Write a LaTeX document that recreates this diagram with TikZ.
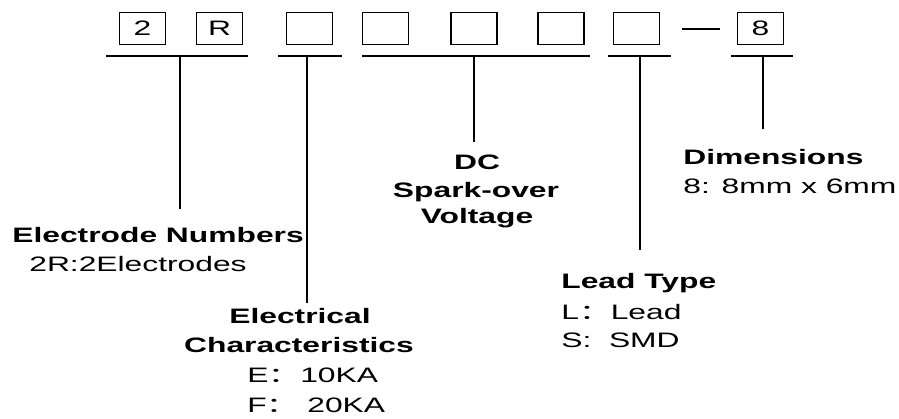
\documentclass[tikz,border=0pt]{standalone}
\usepackage{fontspec}
\setmainfont{Liberation Sans}[FakeStretch=1.52]
\newfontfamily\cjk{Noto Sans CJK SC}[FakeStretch=1.52]
\newcommand{\lblsize}{\fontsize{11.9}{15}\selectfont}
\newcommand{\fcolon}{{\cjk ：}}
\tikzstyle{digit} = [draw, line width=1.1pt, minimum width=0.92cm, minimum height=0.64cm, inner sep=0pt, font=\lblsize]
\tikzstyle{line} = [draw, line width=1.1pt]
\tikzstyle{head} = [inner sep=0pt, font=\lblsize\bfseries]
\tikzstyle{item} = [inner sep=0pt, font=\lblsize]

\begin{document}
\begin{tikzpicture}[x=0.02cm, y=-0.02cm]
\useasboundingbox (0,0) rectangle (899,419);
% code boxes
\node (b1) at (142.5,28.5) [digit] {2};
\node (b2) at (219.5,28.5) [digit] {R};
\node (b3) at (309.5,28.5) [digit] {};
\node (b4) at (385.5,28.5) [digit] {};
\node (b5) at (474,28.5) [digit] {};
\node (b6) at (561,28.5) [digit] {};
\node (b7) at (636.5,28.5) [digit] {};
\node (b8) at (760.5,28.5) [digit] {8};
\coordinate (dash1) at (682,29);
\coordinate (dash2) at (720,29);
\path [line] (dash1) -- (dash2);
% underlines
\coordinate (u1a) at (106,56);
\coordinate (u1b) at (248,56);
\coordinate (u2a) at (278,56);
\coordinate (u2b) at (342,56);
\coordinate (u3a) at (362,56);
\coordinate (u3b) at (590,56);
\coordinate (u4a) at (608,56);
\coordinate (u4b) at (671,56);
\coordinate (u5a) at (731,56);
\coordinate (u5b) at (793,56);
\path [line] (u1a) -- (u1b);
\path [line] (u2a) -- (u2b);
\path [line] (u3a) -- (u3b);
\path [line] (u4a) -- (u4b);
\path [line] (u5a) -- (u5b);
% labels
\node (elec) at (12,242) [head, anchor=base west] {Electrode Numbers};
\node (elecv) at (29,271) [item, anchor=base west] {2R:2Electrodes};
\node (char1) at (300,323) [head, anchor=base] {Electrical};
\node (char2) at (299,352) [head, anchor=base] {Characteristics};
\node (chare) at (247,382) [item, anchor=base west] {E\fcolon10KA};
\node (charf) at (247,412) [item, anchor=base west] {F\fcolon\ 20KA};
\node (dc1) at (477,169) [head, anchor=base] {DC};
\node (dc2) at (476,197) [head, anchor=base] {Spark-over};
\node (dc3) at (477,223) [head, anchor=base] {Voltage};
\node (lead) at (561,288) [head, anchor=base west] {Lead Type};
\node (leadl) at (561,319) [item, anchor=base west] {L\fcolon Lead};
\node (leads) at (561,347) [item, anchor=base west] {S:\ \ SMD};
\node (dim) at (683,164) [head, anchor=base west] {Dimensions};
\node (dimv) at (683,193) [item, anchor=base west] {8: 8mm x 6mm};
% connectors
\coordinate (t1) at (180,56);
\coordinate (t2) at (307,56);
\coordinate (t3) at (474,56);
\coordinate (t4) at (640,56);
\coordinate (t5) at (763,56);
\coordinate (e1) at (180,209);
\coordinate (e2) at (307,303);
\coordinate (e3) at (474,142);
\coordinate (e4) at (640,250);
\coordinate (e5) at (763,129);
\path [line] (t1) -- (e1);
\path [line] (t2) -- (e2);
\path [line] (t3) -- (e3);
\path [line] (t4) -- (e4);
\path [line] (t5) -- (e5);
\end{tikzpicture}
\end{document}
